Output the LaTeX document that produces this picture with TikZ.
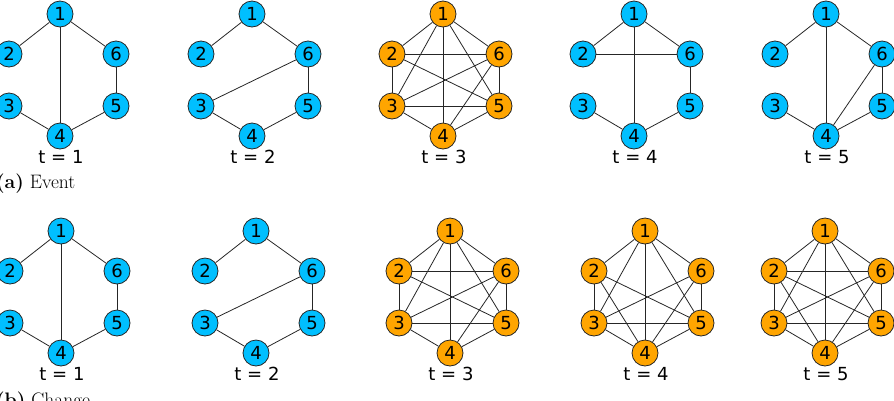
\documentclass[tikz,border=0pt]{standalone}
\usepackage{fontspec}
\newfontfamily\dejavu{DejaVu Sans}
\definecolor{myblue}{HTML}{00BFFF}
\definecolor{myorange}{HTML}{FFA500}
\tikzset{
	bluenode/.style={
			circle,
			draw=black!85,
			line width=0.8pt,
			fill=myblue,
			minimum size=26pt,
			inner sep=0pt,
			font=\dejavu\fontsize{18}{18}\selectfont
		},
	orangenode/.style={
			bluenode,
			fill=myorange
		},
	edgeline/.style={
			draw=black!85,
			line width=0.8pt
		},
	timelabel/.style={
			inner sep=0pt,
			font=\dejavu\fontsize{18}{18}\selectfont
		},
	captionlabel/.style={
			anchor=base west,
			inner sep=0pt,
			font=\fontsize{19.5}{19.5}\selectfont
		}
}
% six nodes of one snapshot: prefix, x, y, style, time
\newcommand{\hexgraph}[5]{
	\begin{scope}[shift={(#2,#3)}]
		\node[#4] (#1-1) at (0,0)    {1};
		\node[#4] (#1-2) at (-51,40) {2};
		\node[#4] (#1-6) at (56,40)  {6};
		\node[#4] (#1-3) at (-51,92) {3};
		\node[#4] (#1-5) at (56,92)  {5};
		\node[#4] (#1-4) at (0,122)  {4};
		\node[timelabel] (#1-t) at (1,143) {t = #5};
	\end{scope}
}

\begin{document}
\begin{tikzpicture}[x=1pt, y=-1pt]
\path[use as bounding box, clip] (0,0) rectangle (894,400);

% (a) Event
\hexgraph{a1}{60}{14}{bluenode}{1}
\hexgraph{a2}{252}{14}{bluenode}{2}
\hexgraph{a3}{443}{14}{orangenode}{3}
\hexgraph{a4}{634}{14}{bluenode}{4}
\hexgraph{a5}{826}{14}{bluenode}{5}

\foreach \u/\v in {1/2,1/6,1/4,6/5,5/4,3/4}
	\draw[edgeline] (a1-\u) -- (a1-\v);
\foreach \u/\v in {1/2,1/6,6/3,6/5,3/4,5/4}
	\draw[edgeline] (a2-\u) -- (a2-\v);
\foreach \u/\v in {1/2,1/6,1/3,1/4,1/5,2/6,2/3,2/5,3/6,3/5,3/4,6/5,6/4,5/4}
	\draw[edgeline] (a3-\u) -- (a3-\v);
\foreach \u/\v in {1/2,1/6,1/4,2/6,6/5,5/4,3/4}
	\draw[edgeline] (a4-\u) -- (a4-\v);
\foreach \u/\v in {1/2,1/6,1/4,6/5,6/4,5/4,3/4}
	\draw[edgeline] (a5-\u) -- (a5-\v);

\node[captionlabel] (capa) at (-4,188) {\textbf{(a)}\ Event};

% (b) Change
\hexgraph{b1}{61}{231}{bluenode}{1}
\hexgraph{b2}{256}{231}{bluenode}{2}
\hexgraph{b3}{450}{231}{orangenode}{3}
\hexgraph{b4}{645}{231}{orangenode}{4}
\hexgraph{b5}{825}{231}{orangenode}{5}

\foreach \u/\v in {1/2,1/6,1/4,6/5,5/4,3/4}
	\draw[edgeline] (b1-\u) -- (b1-\v);
\foreach \u/\v in {1/2,1/6,6/3,6/5,3/4,5/4}
	\draw[edgeline] (b2-\u) -- (b2-\v);
\foreach \u/\v in {1/2,1/6,1/3,1/4,1/5,2/6,2/3,2/5,3/6,3/5,3/4,6/5,6/4,5/4}
	\draw[edgeline] (b3-\u) -- (b3-\v);
\foreach \u/\v in {1/2,1/6,1/3,1/4,1/5,2/3,2/5,2/4,3/6,3/5,3/4,6/5,6/4,5/4}
	\draw[edgeline] (b4-\u) -- (b4-\v);
\foreach \u/\v in {1/2,1/6,1/3,1/4,1/5,2/6,2/3,2/5,2/4,3/6,3/5,3/4,6/5,6/4,5/4}
	\draw[edgeline] (b5-\u) -- (b5-\v);

\node[captionlabel] (capb) at (-4,406) {\textbf{(b)}\ Change};

\end{tikzpicture}
\end{document}
